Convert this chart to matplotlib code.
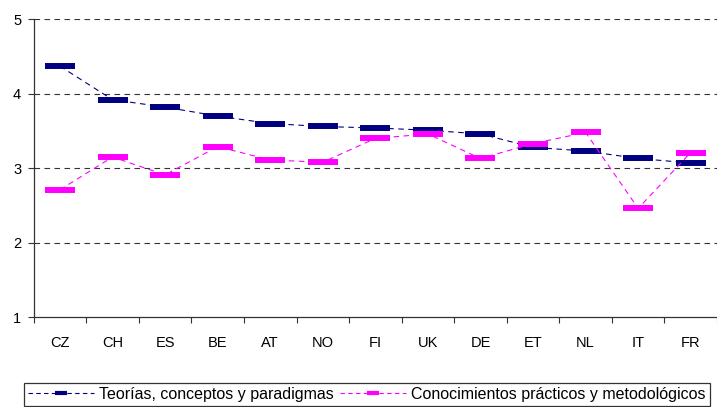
import matplotlib
matplotlib.use("Agg")
import matplotlib.pyplot as plt
from matplotlib.lines import Line2D
import numpy as np

plt.rcParams['font.family'] = ['Liberation Sans', 'DejaVu Sans']

categories = ["CZ", "CH", "ES", "BE", "AT", "NO", "FI", "UK", "DE", "ET", "NL", "IT", "FR"]
teorias = [4.37, 3.92, 3.82, 3.70, 3.60, 3.56, 3.54, 3.51, 3.46, 3.28, 3.23, 3.13, 3.07]
conocimientos = [2.71, 3.15, 2.91, 3.29, 3.11, 3.08, 3.40, 3.46, 3.13, 3.33, 3.48, 2.46, 3.21]
series_names = ["Teorías, conceptos y paradigmas", "Conocimientos prácticos y metodológicos"]
y_ticks = [1, 2, 3, 4, 5]

blue = "#000080"
pink = "#FF00FF"

fig = plt.figure(figsize=(7.17, 4.07), dpi=100)
ax = fig.add_axes([0.047, 0.221, 0.953, 0.7316])

x = np.arange(len(categories))

for yv in y_ticks[1:]:
    ax.axhline(yv, color="#333333", lw=0.8, dashes=(5, 4), zorder=1)

ax.plot(x, teorias, color=blue, lw=0.8, dashes=(5, 4), marker="_",
        markersize=21.8, markeredgewidth=4.3, markeredgecolor=blue, zorder=3)
ax.plot(x, conocimientos, color=pink, lw=0.8, dashes=(5, 4), marker="_",
        markersize=21.8, markeredgewidth=4.3, markeredgecolor=pink, zorder=4)

ax.set_xlim(-0.5, len(categories) - 0.5)
ax.set_ylim(1, 5)
ax.set_yticks(y_ticks)
ax.set_yticklabels([str(v) for v in y_ticks], fontsize=10.5)
ax.set_xticks(x)
ax.set_xticklabels(categories, fontsize=10.5)
ax.set_xticks(np.arange(-0.5, len(categories)), minor=True)
ax.tick_params(axis="x", which="major", length=0, pad=14)
ax.tick_params(axis="x", which="minor", length=4, width=0.8, color="#333333", direction="out")
ax.tick_params(axis="y", length=4, width=0.8, color="#333333", direction="out", pad=5)

for s in ["top", "right"]:
    ax.spines[s].set_visible(False)
for s in ["left", "bottom"]:
    ax.spines[s].set_color("#333333")
    ax.spines[s].set_linewidth(0.9)

handles = [
    Line2D([], [], color=blue, lw=0.8, dashes=(4, 3), marker="_", markersize=8,
           markeredgewidth=3, markeredgecolor=blue),
    Line2D([], [], color=pink, lw=0.8, dashes=(4, 3), marker="_", markersize=8,
           markeredgewidth=3, markeredgecolor=pink),
]
leg = fig.legend(handles, series_names, loc="upper center", bbox_to_anchor=(0.512, 0.06),
                 ncol=2, fontsize=11.5, frameon=True, fancybox=False, shadow=False,
                 handlelength=4.1, handletextpad=0.35, columnspacing=0.4,
                 borderpad=0.25, borderaxespad=0)
leg.get_frame().set_edgecolor("#000000")
leg.get_frame().set_linewidth(0.9)

fig.savefig("out.png", dpi=100)
